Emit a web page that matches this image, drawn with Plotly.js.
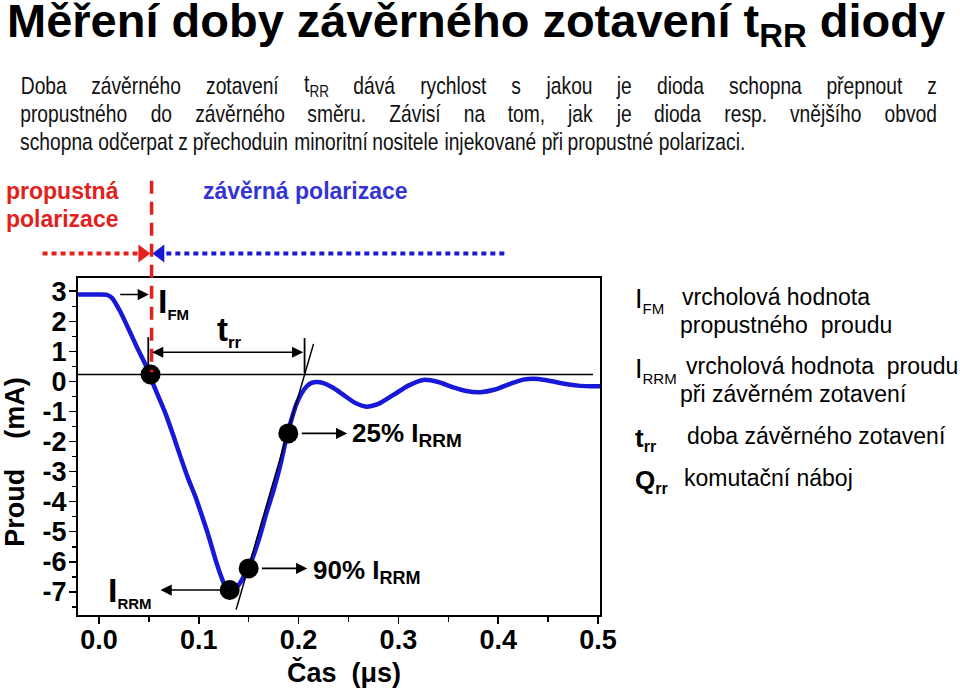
<!DOCTYPE html>
<html><head><meta charset="utf-8">
<script src="https://cdn.plot.ly/plotly-3.0.1.min.js"></script>
<style>html,body{margin:0;padding:0;background:#fff;} #chart{width:960px;height:691px;}</style>
</head><body><div id="chart"></div>
<script>
// ---------- data ----------
const timeUs = [-0.021, 0.0, 0.008, 0.013, 0.0217, 0.03, 0.038, 0.0467, 0.0517, 0.0595, 0.0667, 0.0745, 0.0817, 0.089, 0.0967, 0.102, 0.108, 0.113, 0.118, 0.122, 0.1255, 0.1285, 0.131, 0.134, 0.137, 0.141, 0.145, 0.15, 0.156, 0.162, 0.168, 0.175, 0.182, 0.188, 0.193, 0.198, 0.203, 0.208, 0.213, 0.218, 0.225, 0.235, 0.245, 0.257, 0.268, 0.28, 0.295, 0.31, 0.325, 0.34, 0.355, 0.368, 0.382, 0.397, 0.412, 0.425, 0.435, 0.447, 0.462, 0.48, 0.492, 0.502];
const currentMA = [2.89, 2.89, 2.88, 2.78, 2.3, 1.72, 1.14, 0.55, 0.12, -0.5, -1.07, -1.8, -2.51, -3.2, -3.84, -4.35, -4.95, -5.5, -6.06, -6.45, -6.75, -6.93, -7.0, -6.98, -6.9, -6.72, -6.5, -6.2, -5.68, -5.06, -4.35, -3.62, -2.75, -1.85, -1.25, -0.74, -0.4, -0.17, -0.05, -0.02, -0.06, -0.22, -0.45, -0.72, -0.84, -0.75, -0.45, -0.14, 0.05, -0.02, -0.2, -0.32, -0.36, -0.27, -0.08, 0.06, 0.09, 0.05, -0.05, -0.14, -0.16, -0.16];
const markerTime = [0.0517, 0.131, 0.15, 0.1897];
const markerCurrent = [0.23, -6.94, -6.22, -1.73];
const xTickVals = [0, 0.1, 0.2, 0.3, 0.4, 0.5];
const xTickText = ['0.0', '0.1', '0.2', '0.3', '0.4', '0.5'];
const yTickVals = [3, 2, 1, 0, -1, -2, -3, -4, -5, -6, -7];
const yTickText = ['3', '2', '1', '0', '-1', '-2', '-3', '-4', '-5', '-6', '-7'];
const baselineCurrent = 0.23;
const baselineEnd = 0.495;
const tangentTime = [0.1374, 0.215];
const tangentCurrent = [-7.59, 1.25];
const trrStart = 0.0494, trrEnd = 0.206;
const trrArrowCurrent = 0.97;
const switchTime = 0.0527;

// ---------- geometry helpers ----------
const W = 960, H = 691;
const L = 77.5, R = 600.5, T = 277.5, B = 615;
const PX = px => (px - L) / (R - L);
const PY = py => (B - py) / (B - T);

const SANS = '"Liberation Sans", Arial, sans-serif';
const RED = '#e3201b', BLUE = '#1818d8', TBLUE = '#3434d4';
const sub = (main, s, size) => main + '<sub><span style="font-size:' + size + 'px">' + s + '</span></sub>';

const annotations = [];
const shapes = [];
const condensed = new Set();

// title
annotations.push({xref:'paper', yref:'paper', x:PX(4), y:PY(23), xanchor:'left', yanchor:'middle', showarrow:false,
  text:'Měření doby závěrného zotavení t<sub>RR</sub> diody', font:{family:SANS, size:47, weight:'bold', color:'#000'}});

// paragraph (justified lines via measured word widths, condensed glyphs)
const canvas = document.createElement('canvas');
const ctx = canvas.getContext('2d');
function measure(txt, size) { ctx.font = size + 'px "Liberation Sans", Arial, sans-serif'; return ctx.measureText(txt).width; }
const pSize = 24;
const line3 = 'schopna odčerpat z přechoduin minoritní nositele injekované při propustné polarizaci.';
const squeeze = 726 / measure(line3, pSize);
const pLines = [
  {y:85, words:['Doba','závěrného','zotavení','t|RR','dává','rychlost','s','jakou','je','dioda','schopna','přepnout','z'], justify:true},
  {y:113, words:['propustného','do','závěrného','směru.','Závisí','na','tom,','jak','je','dioda','resp.','vnějšího','obvod'], justify:true},
  {y:141, words:line3.split(' '), justify:false}
];
const pLeft = 20, pRight = 938;
pLines.forEach(ln => {
  const widths = ln.words.map(w => {
    if (w.indexOf('|') >= 0) { const p = w.split('|'); return (measure(p[0], pSize) + measure(p[1], pSize*0.7)) * squeeze; }
    return measure(w, pSize) * squeeze;
  });
  const total = widths.reduce((a,b)=>a+b,0);
  const gap = ln.justify ? (pRight - pLeft - total) / (ln.words.length - 1) : measure(' ', pSize) * squeeze;
  let x = pLeft;
  ln.words.forEach((w, i) => {
    const txt = w.indexOf('|') >= 0 ? w.split('|')[0] + '<sub>' + w.split('|')[1] + '</sub>' : w;
    condensed.add(annotations.length);
    annotations.push({xref:'paper', yref:'paper', x:PX(x + widths[i]/2), y:PY(ln.y), xanchor:'center', yanchor:'middle', showarrow:false,
      text:txt, font:{family:SANS, size:pSize, color:'#111'}});
    x += widths[i] + gap;
  });
});

// polarisation labels
annotations.push({xref:'paper', yref:'paper', x:PX(3), y:PY(190), xanchor:'left', yanchor:'middle', showarrow:false,
  text:'propustná', font:{family:SANS, size:23, weight:'bold', color:RED}});
annotations.push({xref:'paper', yref:'paper', x:PX(3), y:PY(218), xanchor:'left', yanchor:'middle', showarrow:false,
  text:'polarizace', font:{family:SANS, size:23, weight:'bold', color:RED}});
annotations.push({xref:'paper', yref:'paper', x:PX(201), y:PY(190), xanchor:'left', yanchor:'middle', showarrow:false,
  text:'závěrná polarizace', font:{family:SANS, size:23, weight:'bold', color:TBLUE}});

// dotted direction arrows
shapes.push({type:'line', xref:'paper', yref:'paper', x0:PX(42), x1:PX(139), y0:PY(253), y1:PY(253), line:{color:RED, width:4, dash:'5px,4px'}});
shapes.push({type:'path', xref:'paper', yref:'paper', path:`M ${PX(150)} ${PY(253)} L ${PX(138)} ${PY(244)} L ${PX(138)} ${PY(262)} Z`, fillcolor:RED, line:{width:0}});
shapes.push({type:'line', xref:'paper', yref:'paper', x0:PX(166), x1:PX(505), y0:PY(253), y1:PY(253), line:{color:BLUE, width:4, dash:'5px,4px'}});
shapes.push({type:'path', xref:'paper', yref:'paper', path:`M ${PX(152)} ${PY(253)} L ${PX(164)} ${PY(244)} L ${PX(164)} ${PY(262)} Z`, fillcolor:BLUE, line:{width:0}});
// red dashed switch line
shapes.push({type:'line', xref:'x', yref:'paper', x0:switchTime, x1:switchTime, y0:PY(180), y1:PY(372), line:{color:RED, width:3.5, dash:'13px,8px'}});

// baseline, tangent, trr bars
shapes.push({type:'line', xref:'x', yref:'y', x0:-0.021, x1:baselineEnd, y0:baselineCurrent, y1:baselineCurrent, line:{color:'#000', width:1.6}});
shapes.push({type:'line', xref:'x', yref:'y', x0:tangentTime[0], x1:tangentTime[1], y0:tangentCurrent[0], y1:tangentCurrent[1], line:{color:'#000', width:1.5}});
shapes.push({type:'line', xref:'x', yref:'y', x0:trrStart, x1:trrStart, y0:0.37, y1:1.47, line:{color:'#000', width:1.8}});
shapes.push({type:'line', xref:'x', yref:'y', x0:trrEnd, x1:trrEnd, y0:0.27, y1:1.44, line:{color:'#000', width:1.8}});

// arrows in the plot
function arrow(x0, x1, y, both) {
  const a = {xref:'x', yref:'y', axref:'x', ayref:'y', x:x1, y:y, ax:x0, ay:y, text:'', showarrow:true,
    arrowhead:2, arrowsize:1.4, arrowwidth:1.6, arrowcolor:'#000'};
  if (both) { a.arrowside = 'end+start'; a.startarrowhead = 2; a.startarrowsize = 1.4; }
  return a;
}
annotations.push(arrow(0.0198, 0.05, 2.89));
annotations.push(arrow(0.0517, 0.2047, trrArrowCurrent, true));
annotations.push(arrow(0.124, 0.0617, -6.94));
annotations.push(arrow(0.1617, 0.2087, -6.22));
annotations.push(arrow(0.2017, 0.2487, -1.73));

// labels in the plot
const lbl = (x, y, txt, size) => ({xref:'x', yref:'y', x:x, y:y, xanchor:'left', yanchor:'middle', showarrow:false,
  text:txt, font:{family:SANS, size:size, weight:'bold', color:'#000'}});
annotations.push(lbl(0.0575, 2.62, sub('I', 'FM', 15), 34));
annotations.push(lbl(0.1165, 1.66, sub('t', 'rr', 17), 33));
annotations.push(lbl(0.0075, -7.0, sub('I', 'RRM', 15), 34));
annotations.push(lbl(0.212, -6.32, sub('90% I', 'RRM', 18), 26));
annotations.push(lbl(0.252, -1.76, sub('25% I', 'RRM', 19), 26));

// axis title Y as rotated annotation
annotations.push({xref:'paper', yref:'paper', x:PX(15), y:PY(462), xanchor:'center', yanchor:'middle', textangle:-90, showarrow:false,
  text:'Proud\u00a0\u00a0\u00a0\u00a0(mA)', font:{family:SANS, size:27, weight:'bold', color:'#000'}});
// axis title X as annotation
annotations.push({xref:'paper', yref:'paper', x:PX(344.5), y:PY(673), xanchor:'center', yanchor:'middle', showarrow:false,
  text:'Čas\u00a0\u00a0(μs)', font:{family:SANS, size:27, weight:'bold', color:'#000'}});

// legend texts on the right
const rt = (px, py, txt, bold, size) => ({xref:'paper', yref:'paper', x:PX(px), y:PY(py), xanchor:'left', yanchor:'middle', showarrow:false,
  text:txt, font:{family:SANS, size:size || 23, weight: bold ? 'bold' : 'normal', color:'#000'}});
annotations.push(rt(634, 300, sub('I', 'FM', 15), false, 27));
annotations.push(rt(681, 297, 'vrcholová hodnota'));
annotations.push(rt(679, 325, 'propustného\u00a0\u00a0proudu'));
annotations.push(rt(634, 370, sub('I', 'RRM', 15), false, 27));
annotations.push(rt(685, 366, 'vrcholová hodnota\u00a0\u00a0proudu'));
annotations.push(rt(679, 394, 'při závěrném zotavení'));
annotations.push(rt(634, 439, sub('t', 'rr', 16), true, 26));
annotations.push(rt(686, 436, 'doba závěrného zotavení'));
annotations.push(rt(634, 481, sub('Q', 'rr', 16), true, 26));
annotations.push(rt(683, 478, 'komutační náboj'));

const traces = [
  {x: timeUs, y: currentMA, type:'scatter', mode:'lines', line:{color:BLUE, width:4.5, shape:'spline', smoothing:0.6}, hoverinfo:'skip'},
  {x: markerTime, y: markerCurrent, type:'scatter', mode:'markers', marker:{color:'#000', size:20}, hoverinfo:'skip'}
];

const tickFont = {family:SANS, size:27, weight:'bold', color:'#000'};
const layout = {
  width: W, height: H, showlegend:false,
  paper_bgcolor:'#fff', plot_bgcolor:'#fff',
  margin:{l:L, r:W - R, t:T, b:H - B, pad:0},
  xaxis:{range:[-0.021, 0.502], tickvals:xTickVals, ticktext:xTickText, ticks:'outside', ticklen:7, tickwidth:1.5, tickcolor:'#000',
    ticklabelstandoff:-7,
    minor:{tickvals:[0.05,0.15,0.25,0.35,0.45], ticks:'outside', ticklen:5, tickwidth:1.5, tickcolor:'#000'},
    showline:true, linecolor:'#000', linewidth:2, mirror:true, showgrid:false, zeroline:false, tickfont:tickFont},
  yaxis:{range:[-7.77, 3.44], tickvals:yTickVals, ticktext:yTickText, ticks:'outside', ticklen:7, tickwidth:1.5, tickcolor:'#000',
    ticklabelstandoff:-3,
    minor:{tickvals:[2.5,1.5,0.5,-0.5,-1.5,-2.5,-3.5,-4.5,-5.5,-6.5,-7.5], ticks:'outside', ticklen:4, tickwidth:1.5, tickcolor:'#000'},
    showline:true, linecolor:'#000', linewidth:2, mirror:true, showgrid:false, zeroline:false, tickfont:tickFont},
  shapes: shapes,
  annotations: annotations
};
Plotly.newPlot('chart', traces, layout, {staticPlot:true, displayModeBar:false}).then(gd => {
  gd.querySelectorAll('g.annotation').forEach(g => {
    const idx = +g.getAttribute('data-index');
    if (condensed.has(idx)) {
      const t = g.querySelector('text.annotation-text');
      if (t) {
        t.style.transformBox = 'fill-box';
        t.style.transformOrigin = 'center';
        t.style.transform = 'scaleX(' + squeeze + ')';
      }
    }
  });
});
</script>
</body></html>
